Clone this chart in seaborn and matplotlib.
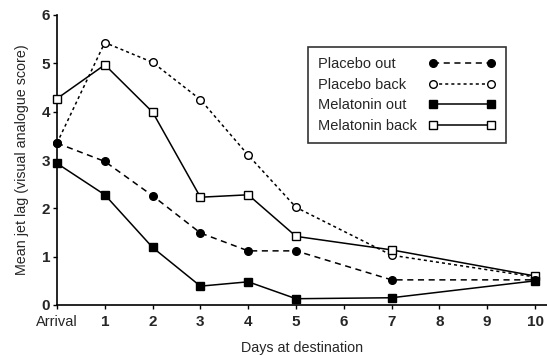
import numpy as np
import pandas as pd
import matplotlib
matplotlib.use("Agg")
import matplotlib.pyplot as plt
import seaborn as sns

# dias en destino (0 = llegada)
days = [0, 1, 2, 3, 4, 5, 7, 10]
tick_days = [0, 1, 2, 3, 4, 5, 6, 7, 8, 9, 10]
tick_labels = ["Arrival", "1", "2", "3", "4", "5", "6", "7", "8", "9", "10"]

placebo_out = [3.35, 2.97, 2.26, 1.49, 1.12, 1.12, 0.52, 0.52]
placebo_back = [3.35, 5.43, 5.02, 4.25, 3.10, 2.02, 1.03, 0.58]
melatonin_out = [2.93, 2.28, 1.19, 0.39, 0.48, 0.13, 0.15, 0.50]
melatonin_back = [4.27, 4.97, 3.99, 2.23, 2.28, 1.42, 1.14, 0.60]

sns.set_theme(style="ticks")
plt.rcParams['font.family'] = ['Liberation Sans', 'DejaVu Sans']

fig = plt.figure(figsize=(5.47, 3.56), dpi=100)
ax = fig.add_axes([57 / 547, 51 / 356, 490 / 547, 290 / 356])

series = [
    ("Placebo out", placebo_out, "o", "black", (0, (4, 3)), 5.5, 4),
    ("Placebo back", placebo_back, "o", "white", (0, (2, 2)), 5.5, 3),
    ("Melatonin out", melatonin_out, "s", "black", "-", 6, 4),
    ("Melatonin back", melatonin_back, "s", "white", "-", 6, 3),
]

for name, vals, mk, fc, ls, ms, z in series:
    df = pd.DataFrame({"day": days, "score": vals})
    sns.lineplot(data=df, x="day", y="score", ax=ax, color="black", lw=1.1,
                 linestyle=ls, marker=mk, markersize=ms, markerfacecolor=fc,
                 markeredgecolor="black", markeredgewidth=1, label=name,
                 clip_on=False, zorder=z)

ax.set_xlim(0, 10.25)
ax.set_ylim(0, 6)
ax.set_xticks(tick_days)
ax.set_xticklabels(tick_labels)
ax.set_yticks(range(7))
for lab in ax.get_xticklabels():
    if lab.get_text() == "Arrival":
        lab.set_fontsize(10.5)
    else:
        lab.set_fontweight("bold")
        lab.set_fontsize(11)
for lab in ax.get_yticklabels():
    lab.set_fontweight("bold")
    lab.set_fontsize(11)
ax.tick_params(axis="both", length=3, width=1, color="black")
ax.tick_params(axis="x", pad=4)
ax.tick_params(axis="y", pad=2)

ax.set_xlabel("Days at destination", fontsize=10.3, labelpad=9)
ax.set_ylabel("Mean jet lag (visual analogue score)", fontsize=10.3, labelpad=9)

for s in ["top", "right"]:
    ax.spines[s].set_visible(False)
for s in ["left", "bottom"]:
    ax.spines[s].set_color("black")
    ax.spines[s].set_linewidth(1.2)

leg = ax.legend(loc="upper left", bbox_to_anchor=(251 / 490, 1 - 32 / 290),
                borderaxespad=0, markerfirst=False, numpoints=2,
                handlelength=4.6, frameon=True, fancybox=False,
                edgecolor="black", fontsize=10.5, borderpad=0.7,
                labelspacing=0.45, handletextpad=0.8)
leg.get_frame().set_linewidth(1.2)
leg.set_zorder(10)

# alinear los textos de la leyenda a la izquierda
fig.canvas.draw()
renderer = fig.canvas.get_renderer()
rows = []
for col in leg._legend_handle_box.get_children():
    rows.extend(col.get_children())
w = max(r.get_bbox(renderer).width for r in rows)
for r in rows:
    r.mode = "expand"
    r.width = w

fig.savefig("out.png", dpi=100)
